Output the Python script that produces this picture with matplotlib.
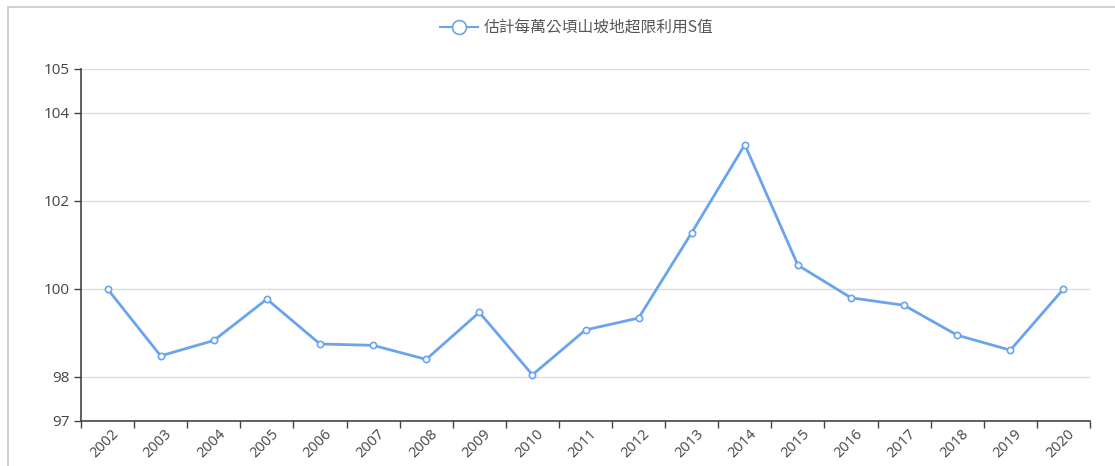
import matplotlib
matplotlib.use("Agg")
import matplotlib.pyplot as plt
from matplotlib.patches import Rectangle
from matplotlib.lines import Line2D
import matplotlib.transforms as mtransforms

plt.rcParams['font.family'] = ['Noto Sans CJK TC', 'DejaVu Sans']

years = ['2002', '2003', '2004', '2005', '2006', '2007', '2008', '2009', '2010', '2011',
         '2012', '2013', '2014', '2015', '2016', '2017', '2018', '2019', '2020']
values = [100.0, 98.48, 98.83, 99.77, 98.75, 98.72, 98.40, 99.47, 98.05, 99.07,
          99.34, 101.28, 103.28, 100.54, 99.80, 99.63, 98.95, 98.61, 100.0]
series_name = '估計每萬公頃山坡地超限利用S值'
y_ticks = [97, 98, 100, 102, 104, 105]

W, H = 1115, 466
fig = plt.figure(figsize=(W / 100, H / 100), dpi=100)

# outer border
fig.patches.append(Rectangle((8 / W, -0.05), 1.2, 1 - 7 / H + 0.05, transform=fig.transFigure,
                             fill=False, edgecolor='#c8c8c8', linewidth=1.2))

ax = fig.add_axes([81 / W, 45 / H, (1090 - 81) / W, (421 - 69) / H])
color = '#6aa3ee'
x = list(range(len(years)))
ax.plot(x, values, color=color, linewidth=2, marker='o', markersize=4.5,
        markerfacecolor='white', markeredgecolor=color, markeredgewidth=1.2, zorder=3)

tick_font = dict(family=['Open Sans', 'DejaVu Sans'], size=11, color='#444444')

ax.set_xlim(-0.5, len(years) - 0.5)
ax.set_ylim(97, 105)
ax.set_yticks(y_ticks)
ax.set_yticklabels([str(t) for t in y_ticks], **tick_font)
ax.tick_params(axis='y', length=5, color='#444444', width=1, pad=3)

ax.set_xticks(x)
ax.set_xticklabels(years, rotation=45, ha='right', va='top', rotation_mode='anchor',
                   family=['Open Sans', 'DejaVu Sans'], size=10.5, color='#444444')
ax.tick_params(axis='x', which='major', length=0, pad=4)
offset = mtransforms.ScaledTranslation(4 / 100, 0, fig.dpi_scale_trans)
for lbl in ax.get_xticklabels():
    lbl.set_transform(lbl.get_transform() + offset)
ax.set_xticks([i - 0.5 for i in range(len(years) + 1)], minor=True)
ax.tick_params(axis='x', which='minor', length=5, color='#444444', width=1)

for t in y_ticks[1:]:
    ax.axhline(t, color='#dddddd', linewidth=1, zorder=1)

for s in ['top', 'right']:
    ax.spines[s].set_visible(False)
for s in ['left', 'bottom']:
    ax.spines[s].set_color('#444444')
    ax.spines[s].set_linewidth(1.2)

handle = Line2D([0], [0], color=color, linewidth=1.5, marker='o', markersize=10,
                markerfacecolor='white', markeredgecolor=color, markeredgewidth=1.2)
fig.legend([handle], [series_name], loc='center', bbox_to_anchor=(577 / W, 1 - 28 / H),
           frameon=False, fontsize=11.3, labelcolor='#555555', handlelength=2.4,
           handletextpad=0.4)

fig.savefig('out.png', dpi=100)
